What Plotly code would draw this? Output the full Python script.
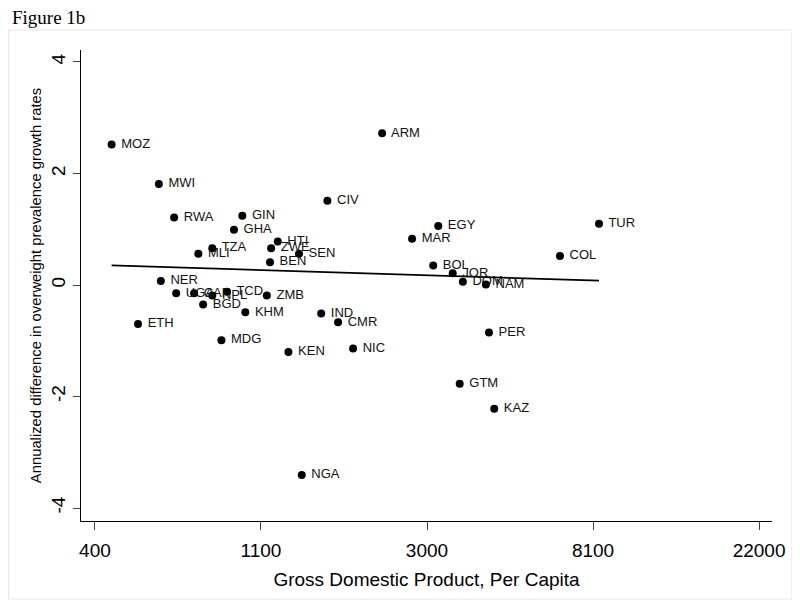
import numpy as np
import plotly.graph_objects as go

# Country codes, GDP per capita, annualized difference in overweight prevalence growth rates
countries = ["MOZ", "MWI", "RWA", "GIN", "GHA", "TZA", "MLI", "HTI", "ZWE", "SEN", "BEN",
             "CIV", "ARM", "EGY", "MAR", "BOL", "JOR", "DOM", "NAM", "TUR", "COL",
             "PER", "GTM", "KAZ", "NGA", "NIC", "KEN", "CMR", "IND", "ZMB", "KHM",
             "MDG", "BGD", "TCD", "NPL", "CAF", "UGA", "NER", "ETH"]
gdp = [446, 593, 650, 980, 932, 818, 752, 1213, 1166, 1379, 1158,
       1636, 2275, 3190, 2725, 3095, 3480, 3700, 4250, 8400, 6640,
       4330, 3630, 4470, 1402, 1910, 1294, 1745, 1576, 1136, 998,
       864, 774, 894, 818, 733, 658, 600, 523]
diff = [2.52, 1.81, 1.21, 1.24, 0.99, 0.66, 0.56, 0.78, 0.66, 0.56, 0.41,
        1.51, 2.72, 1.06, 0.83, 0.35, 0.21, 0.06, 0.01, 1.10, 0.52,
        -0.85, -1.77, -2.22, -3.41, -1.14, -1.20, -0.67, -0.51, -0.19, -0.49,
        -0.99, -0.35, -0.12, -0.19, -0.15, -0.15, 0.07, -0.70]

# Linear fit line endpoints
fit_gdp = [446, 8400]
fit_y = [0.353, 0.077]

# Axis ticks
x_tick_labels = ["400", "1100", "3000", "8100", "22000"]
x_tick_vals = list(np.exp(np.arange(6, 11)))
y_tick_vals = [-4, -2, 0, 2, 4]
y_tick_labels = ["-4", "-2", "0", "2", "4"]

fig = go.Figure()

fig.add_trace(go.Scatter(
    x=fit_gdp, y=fit_y, mode="lines",
    line=dict(color="black", width=1.8),
    hoverinfo="skip", showlegend=False,
))

fig.add_trace(go.Scatter(
    x=gdp, y=diff, mode="markers+text",
    text=[" " + c for c in countries], textposition="middle right",
    textfont=dict(family="Liberation Sans, Arial, sans-serif", size=13, color="#111111"),
    marker=dict(color="black", size=8),
    showlegend=False,
))

# The page body adds an 8px offset; figure pixel coordinates below are page coords minus 8
OFF = 8
W, H = 800 - OFF, 607 - OFF
L, T = 81 - OFF, 50 - OFF
R = W - (772 - OFF)
B = H - (521 - OFF)
pw, ph = W - L - R, H - T - B

def px_to_paper_x(px):
    return (px - OFF - L) / pw

def px_to_paper_y(py):
    return (H - B - (py - OFF)) / ph

fig.add_shape(type="rect", xref="paper", yref="paper",
              x0=px_to_paper_x(8.5), x1=px_to_paper_x(792),
              y0=px_to_paper_y(599), y1=px_to_paper_y(30),
              line=dict(color="#e4e8eb", width=1.2), fillcolor="rgba(0,0,0,0)",
              layer="below")

fig.update_layout(
    width=W, height=H,
    margin=dict(l=L, r=R, t=T, b=B, autoexpand=False),
    paper_bgcolor="white", plot_bgcolor="white",
    title=dict(text="Figure 1b", x=(12 - OFF) / W, y=1 - (17 - OFF) / H,
               xref="container", yref="container",
               xanchor="left", yanchor="middle", automargin=False,
               font=dict(family="Liberation Serif, Times New Roman, serif", size=19, color="black")),
    xaxis=dict(
        type="log", automargin=False,
        range=[5.916 / np.log(10), 10.078 / np.log(10)],
        tickvals=x_tick_vals, ticktext=x_tick_labels,
        showgrid=False, zeroline=False,
        showline=True, linecolor="black", linewidth=1,
        ticks="outside", ticklen=8, tickcolor="#444444", tickwidth=1,
        ticklabelstandoff=4,
        tickfont=dict(family="Liberation Sans, Arial, sans-serif", size=19, color="black"),
        title=dict(text="Gross Domestic Product, Per Capita", standoff=12,
                   font=dict(family="Liberation Sans, Arial, sans-serif", size=19, color="black")),
    ),
    yaxis=dict(
        automargin=False,
        range=[-4.233, 4.215],
        tickvals=y_tick_vals, ticktext=y_tick_labels,
        showgrid=False, zeroline=False,
        showline=True, linecolor="black", linewidth=1,
        ticks="outside", ticklen=7, tickcolor="#444444", tickwidth=1,
        tickangle=-90,
        tickfont=dict(family="Liberation Sans, Arial, sans-serif", size=19, color="black"),
        title=dict(text="Annualized difference in overweight prevalence growth rates", standoff=3,
                   font=dict(family="Liberation Sans, Arial, sans-serif", size=14.8, color="black")),
    ),
)

fig.write_html("out.html")
